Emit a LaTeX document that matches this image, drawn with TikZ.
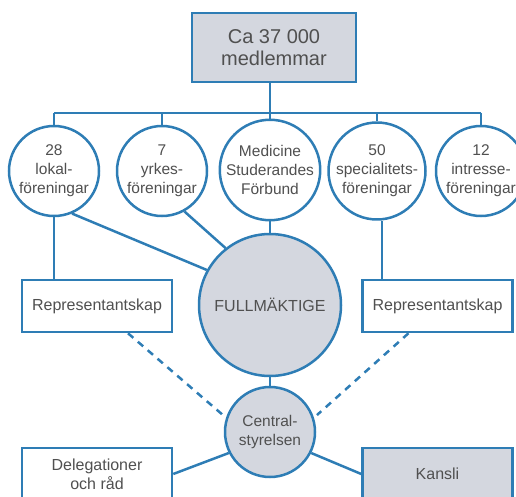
\documentclass[tikz,border=0pt]{standalone}
\usepackage{fontspec}
\setmainfont{Liberation Sans}
\usepackage{xcolor}
\definecolor{orgblue}{HTML}{2E7DB5}
\definecolor{orggrey}{HTML}{D4D7DF}
\definecolor{orgtext}{HTML}{505050}

\begin{document}
\begin{tikzpicture}[x=1pt, y=-1pt,
    line width=2.5pt, draw=orgblue,
    member/.style={circle, draw=orgblue, fill=white, inner sep=0pt, minimum size=90pt,
        align=center, text=orgtext, font=\fontsize{15.5}{19}\selectfont},
    organ/.style={rectangle, draw=orgblue, fill=white, minimum width=150pt, minimum height=52pt,
        align=center, text=orgtext, font=\fontsize{16}{19}\selectfont}]
    \useasboundingbox (0,0) rectangle (516,497);

    % Top box
    \node[organ, fill=orggrey, minimum width=164pt, minimum height=69pt,
        font=\fontsize{20}{22}\selectfont] (members) at (274,47.5) {Ca 37 000\\medlemmar};

    % Member associations
    \node[member] (lokal) at (54,171) {28\\lokal-\\föreningar};
    \node[member] (yrkes) at (162,171) {7\\yrkes-\\föreningar};
    \node[member] (msf) at (270,170) {Medicine\\Studerandes\\Förbund};
    \node[member] (spec) at (377,171) {50\\specialitets-\\föreningar};
    \node[member] (intr) at (481,171) {12\\intresse-\\föreningar};

    % Bus line
    \coordinate (bus) at (0,113);
    \draw[orgblue] (members.south -| msf.north) -- (msf.north);
    \draw[orgblue] (lokal.north |- bus) -- (intr.north |- bus);
    \foreach \n in {lokal,yrkes,spec,intr}
        \draw[orgblue] (\n.north |- bus) -- (\n.north);

    % Middle level
    \node[circle, draw=orgblue, fill=orggrey, minimum size=142pt, inner sep=0pt,
        text=orgtext, font=\fontsize{16}{19}\selectfont] (full) at (270,305) {FULLMÄKTIGE};
    \node[organ] (repleft) at (97,306) {Representantskap};
    \node[organ] (repright) at (437.5,306) {Representantskap};

    \draw[orgblue] (lokal.-67) -- (full.151);
    \draw[orgblue] (yrkes.-61) -- (full.128);
    \draw[orgblue] (msf.south) -- (full.north);
    \draw[orgblue] (lokal.south) -- (lokal.south |- repleft.north);
    \draw[orgblue] ([xshift=5pt]spec.south) -- ([xshift=5pt]spec.south |- repright.north);

    % Central board
    \node[member, fill=orggrey] (cs) at (270,432) {Central-\\styrelsen};
    \draw[orgblue] (full.south) -- (cs.north);
    \draw[orgblue, dashed, dash pattern=on 7pt off 6pt, shorten >=4pt]
        ([xshift=31pt]repleft.south) -- (cs.162);
    \draw[orgblue, dashed, dash pattern=on 7pt off 6pt, shorten >=4pt]
        ([xshift=-29pt]repright.south) -- (cs.18);

    % Bottom level
    \node[organ] (deleg) at (97,474) {Delegationer\\och råd};
    \node[organ, fill=orggrey] (kansli) at (437.5,474) {Kansli};
    \draw[orgblue] (cs.207) -- (deleg.east);
    \draw[orgblue] (cs.-27) -- (kansli.west);
\end{tikzpicture}
\end{document}
